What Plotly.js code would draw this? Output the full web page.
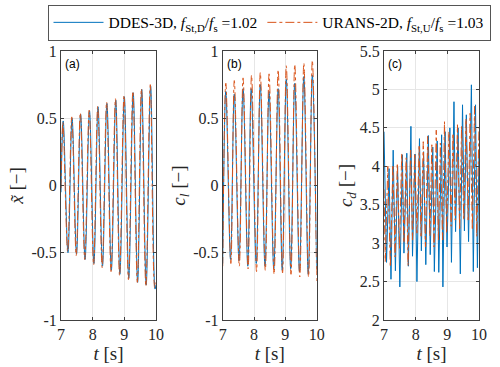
<!DOCTYPE html>
<html>
<head>
<meta charset="utf-8">
<script src="https://cdn.plot.ly/plotly-3.0.1.min.js"></script>
<style>
  html, body { margin: 0; padding: 0; background: #fff; }
  #chart { width: 500px; height: 367px; }
</style>
</head>
<body>
<div id="chart"></div>
<script>
// (a) displacement x~ : alternating extrema
const tXD = [7.00, 7.07, 7.22, 7.35, 7.49, 7.62, 7.76, 7.90, 8.04, 8.17, 8.31, 8.45, 8.59, 8.73, 8.86, 9.00, 9.14, 9.28, 9.42, 9.55, 9.69, 9.83, 9.97, 10.0];
const xDDES = [-0.05, 0.48, -0.50, 0.50, -0.51, 0.53, -0.55, 0.555, -0.58, 0.585, -0.60, 0.61, -0.63, 0.635, -0.66, 0.66, -0.69, 0.69, -0.72, 0.715, -0.74, 0.74, -0.77, -0.74];
const tXU = [7.00, 7.06, 7.21, 7.34, 7.48, 7.61, 7.75, 7.89, 8.03, 8.16, 8.30, 8.44, 8.58, 8.72, 8.85, 8.99, 9.13, 9.27, 9.41, 9.54, 9.68, 9.82, 9.96, 10.0];
const xURANS = [-0.02, 0.47, -0.49, 0.51, -0.52, 0.54, -0.55, 0.56, -0.59, 0.59, -0.61, 0.62, -0.64, 0.645, -0.67, 0.67, -0.70, 0.70, -0.72, 0.72, -0.75, 0.75, -0.76, -0.72];

// (b) lift coefficient c_l
const tLD = [7.00, 7.10, 7.25, 7.37, 7.52, 7.65, 7.80, 7.91, 8.07, 8.20, 8.35, 8.48, 8.63, 8.77, 8.90, 9.03, 9.17, 9.30, 9.45, 9.59, 9.73, 9.86, 10.0];
const clDDES = [-0.58, 0.70, -0.55, 0.68, -0.56, 0.72, -0.60, 0.72, -0.58, 0.75, -0.60, 0.70, -0.62, 0.72, -0.63, 0.79, -0.62, 0.76, -0.64, 0.81, -0.66, 0.82, -0.62];
const tLU = [7.00, 7.10, 7.26, 7.37, 7.53, 7.65, 7.81, 7.92, 8.08, 8.20, 8.36, 8.48, 8.64, 8.77, 8.91, 9.03, 9.18, 9.30, 9.46, 9.59, 9.74, 9.86, 10.0];
const clURANS = [-0.60, 0.76, -0.58, 0.78, -0.60, 0.80, -0.62, 0.82, -0.64, 0.84, -0.63, 0.83, -0.66, 0.86, -0.65, 0.89, -0.66, 0.90, -0.68, 0.91, -0.68, 0.93, -0.71];

// (c) drag coefficient c_d
const tDD = [7.00, 7.08, 7.16, 7.22, 7.29, 7.36, 7.43, 7.50, 7.58, 7.63, 7.72, 7.77, 7.85, 7.90, 7.98, 8.04, 8.12, 8.18, 8.25, 8.32, 8.40, 8.46, 8.54, 8.59, 8.68, 8.73, 8.82, 8.86, 8.93, 8.99, 9.08, 9.13, 9.21, 9.26, 9.34, 9.41, 9.48, 9.54, 9.60, 9.67, 9.76, 9.82, 9.89, 9.95, 10.0];
const cdDDES = [4.45, 2.75, 3.97, 2.53, 4.21, 2.64, 3.99, 2.43, 4.15, 2.87, 4.17, 2.70, 4.52, 2.83, 4.16, 2.50, 4.36, 2.90, 4.19, 2.72, 4.40, 2.85, 4.25, 2.63, 4.33, 2.62, 4.41, 2.43, 4.45, 2.95, 4.50, 2.75, 4.84, 3.15, 4.50, 2.60, 4.80, 3.16, 4.67, 3.02, 5.06, 2.63, 4.80, 2.68, 4.20];
const tDU = [7.00, 7.04, 7.12, 7.20, 7.28, 7.35, 7.42, 7.49, 7.56, 7.63, 7.70, 7.76, 7.84, 7.90, 7.97, 8.04, 8.11, 8.17, 8.24, 8.31, 8.38, 8.45, 8.51, 8.58, 8.65, 8.72, 8.78, 8.85, 8.91, 8.98, 9.05, 9.12, 9.18, 9.25, 9.32, 9.39, 9.45, 9.52, 9.59, 9.66, 9.72, 9.79, 9.86, 9.93, 10.0];
const cdURANS = [3.70, 2.76, 4.00, 2.69, 4.02, 2.82, 4.04, 2.93, 4.17, 3.00, 4.11, 2.71, 4.21, 3.04, 4.17, 3.13, 4.26, 3.09, 4.32, 2.95, 4.39, 3.09, 4.28, 2.95, 4.47, 3.04, 4.30, 3.04, 4.58, 3.13, 4.45, 3.22, 4.43, 3.30, 4.54, 3.17, 4.52, 3.30, 4.62, 3.30, 4.69, 3.17, 4.78, 3.09, 4.50];

// tick labels
const tTicks = [7, 8, 9, 10];
const symTicks = [-1, -0.5, 0, 0.5, 1];
const symText = ['-1', '-0.5', '0', '0.5', '1'];
const cdTicks = [2, 2.5, 3, 3.5, 4, 4.5, 5, 5.5];
const cdText = ['2', '2.5', '3', '3.5', '4', '4.5', '5', '5.5'];

const nameD = 'DDES-3D, <i>f</i><sub>St,D</sub>/<i>f</i><sub>s</sub> =1.02';
const nameU = 'URANS-2D, <i>f</i><sub>St,U</sub>/<i>f</i><sub>s</sub> =1.03';

const blue = '#0072BD';
const orange = '#D95319';
const serif = '"Liberation Serif", "Times New Roman", serif';

const lineD = (shape) => ({ color: blue, width: 1, shape: shape, smoothing: 1 });
const lineU = (shape) => ({ color: orange, width: 1, dash: 'dashdot', shape: shape, smoothing: 1 });

const traces = [
    { x: tXD, y: xDDES, xaxis: 'x', yaxis: 'y', mode: 'lines', line: lineD('spline'), name: nameD },
    { x: tXU, y: xURANS, xaxis: 'x', yaxis: 'y', mode: 'lines', line: lineU('spline'), name: nameU },
    { x: tLD, y: clDDES, xaxis: 'x2', yaxis: 'y2', mode: 'lines', line: lineD('spline'), showlegend: false },
    { x: tLU, y: clURANS, xaxis: 'x2', yaxis: 'y2', mode: 'lines', line: lineU('spline'), showlegend: false },
    { x: tDD, y: cdDDES, xaxis: 'x3', yaxis: 'y3', mode: 'lines', line: lineD('linear'), showlegend: false },
    { x: tDU, y: cdURANS, xaxis: 'x3', yaxis: 'y3', mode: 'lines', line: lineU('linear'), showlegend: false }
];

const axisStyle = {
    showline: true, mirror: 'ticks', linecolor: '#404040', linewidth: 1,
    ticks: 'inside', ticklen: 3, tickcolor: '#404040',
    showgrid: true, gridcolor: '#e6e6e6', zeroline: false,
    tickfont: { family: serif, size: 16, color: '#262626' }
};

const xAxis = (dom, anchor) => Object.assign({}, axisStyle, {
    domain: dom, anchor: anchor, range: [7, 10], tickvals: tTicks, ticktext: tTicks.map(String),
    title: { text: '<i>t</i> [s]', font: { family: serif, size: 19, color: '#262626' }, standoff: 0 }
});
const yAxis = (anchor, range, vals, text, title) => Object.assign({}, axisStyle, {
    domain: [0, 1], anchor: anchor, range: range, tickvals: vals, ticktext: text,
    title: { text: title, font: { family: serif, size: 19, color: '#262626' }, standoff: 2 }
});

const panelLabel = (ref, txt) => ({
    xref: ref + ' domain', yref: 'y' + ref.slice(1) + ' domain', x: 0.02, y: 0.985,
    xanchor: 'left', yanchor: 'top', showarrow: false, text: txt,
    font: { family: '"Liberation Sans", Arial, sans-serif', size: 12, color: '#000' }
});

const layout = {
    width: 500, height: 367,
    margin: { l: 0, r: 0, t: 51, b: 47, autoexpand: false },
    paper_bgcolor: '#fff', plot_bgcolor: '#fff',
    font: { family: serif },
    showlegend: true,
    legend: {
        orientation: 'h', xref: 'container', yref: 'container',
        x: 0.538, xanchor: 'center', y: 0.987, yanchor: 'top',
        bordercolor: '#555', borderwidth: 1, bgcolor: '#fff',
        itemwidth: 50,
        font: { family: serif, size: 15.5, color: '#000' }, tracegroupgap: 0
    },
    xaxis: xAxis([0.122, 0.312], 'y'),
    xaxis2: xAxis([0.4454, 0.6334], 'y2'),
    xaxis3: xAxis([0.768, 0.958], 'y3'),
    yaxis: yAxis('x', [-1, 1], symTicks, symText, '<i>x̃</i> [−]'),
    yaxis2: yAxis('x2', [-1, 1], symTicks, symText, '<i>c<sub>l</sub></i> [−]'),
    yaxis3: yAxis('x3', [2, 5.5], cdTicks, cdText, '<i>c<sub>d</sub></i> [−]'),
    annotations: [
        panelLabel('x', '(a)'),
        panelLabel('x2', '(b)'),
        panelLabel('x3', '(c)')
    ]
};

Plotly.newPlot('chart', traces, layout, { displayModeBar: false, staticPlot: true });
</script>
</body>
</html>
